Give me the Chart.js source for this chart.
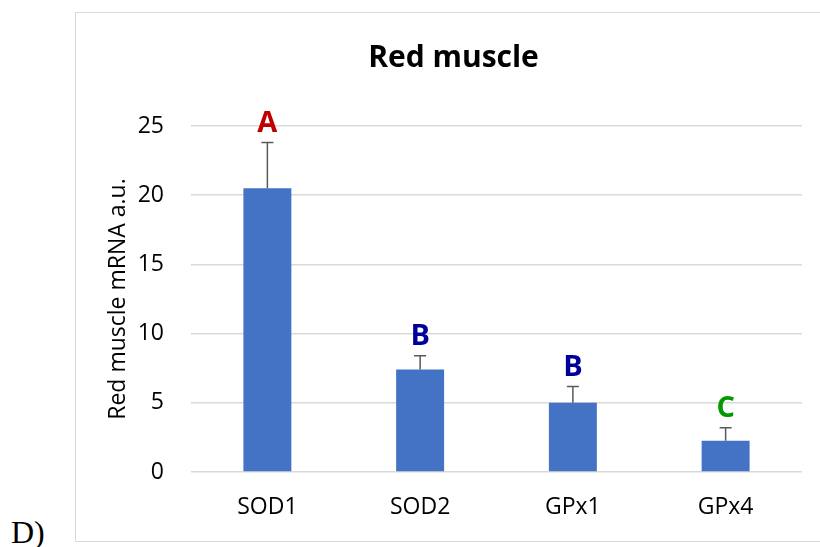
<!DOCTYPE html>
<html>
<head>
<meta charset="utf-8">
<script src="https://cdn.jsdelivr.net/npm/chart.js@4/dist/chart.umd.min.js"></script>
<style>
  html, body { margin:0; padding:0; background:#fff; overflow:hidden; }
  #frame { position:absolute; left:75px; top:12px; width:800px; height:528px; border:1.5px solid #d9d9d9; }
  #wrap { position:absolute; left:0; top:0; width:820px; height:547px; }
  #tag { position:absolute; left:11px; top:514px; font:32px "Liberation Serif", serif; color:#000; }
</style>
</head>
<body>
<div id="frame"></div>
<div id="tag">D)</div>
<div id="wrap"><canvas id="chart" width="820" height="547"></canvas></div>
<script>
const genes = ['SOD1', 'SOD2', 'GPx1', 'GPx4'];
const mrna = [20.5, 7.4, 5.0, 2.25];
const sem = [3.3, 1.0, 1.17, 0.95];
const letters = ['A', 'B', 'B', 'C'];
const letterColors = ['#C00000', '#000099', '#000099', '#009900'];
const yTicks = [0, 5, 10, 15, 20, 25];

const errorBars = {
  id: 'errorBars',
  afterDatasetsDraw(chart) {
    const ctx = chart.ctx, y = chart.scales.y;
    const meta = chart.getDatasetMeta(0);
    ctx.save();
    meta.data.forEach((bar, i) => {
      const top = y.getPixelForValue(mrna[i] + sem[i]);
      const base = y.getPixelForValue(mrna[i]);
      ctx.strokeStyle = '#595959';
      ctx.lineWidth = 1.5;
      ctx.beginPath();
      ctx.moveTo(bar.x, base); ctx.lineTo(bar.x, top);
      ctx.moveTo(bar.x - 6, top); ctx.lineTo(bar.x + 6, top);
      ctx.stroke();
      ctx.fillStyle = letterColors[i];
      ctx.font = 'bold 29px "Open Sans"';
      ctx.textAlign = 'center';
      ctx.textBaseline = 'alphabetic';
      ctx.fillText(letters[i], bar.x, top - 11);
    });
    ctx.restore();
  }
};

new Chart(document.getElementById('chart'), {
  type: 'bar',
  data: {
    labels: genes,
    datasets: [{ data: mrna, backgroundColor: '#4472C4', categoryPercentage: 1, barPercentage: 0.314 }]
  },
  options: {
    responsive: false,
    animation: false,
    layout: { padding: { left: 105, right: 18, top: 0, bottom: 0 } },
    plugins: {
      legend: { display: false },
      tooltip: { enabled: false },
      title: {
        display: true, text: 'Red muscle', color: '#000',
        font: { family: 'Open Sans', size: 30, weight: 'bold' },
        padding: { top: 40, bottom: 50 }
      }
    },
    scales: {
      x: {
        grid: { display: false, drawTicks: false },
        border: { display: false },
        ticks: { color: '#000', padding: 22, font: { family: 'Open Sans', size: 23 } },
        afterFit(s) { s.height = 75; }
      },
      y: {
        min: 0, max: 25,
        afterBuildTicks(s) { s.ticks = yTicks.map(v => ({ value: v })); },
        grid: { color: '#d9d9d9', lineWidth: 1.5, drawTicks: false },
        border: { display: false },
        ticks: { color: '#000', padding: 27, font: { family: 'Open Sans', size: 23 } },
        title: { display: true, text: 'Red muscle mRNA a.u.', color: '#000', padding: 0,
                 font: { family: 'Open Sans', size: 23 } },
        afterFit(s) { s.width = 86; }
      }
    }
  },
  plugins: [errorBars]
});
</script>
</body>
</html>
